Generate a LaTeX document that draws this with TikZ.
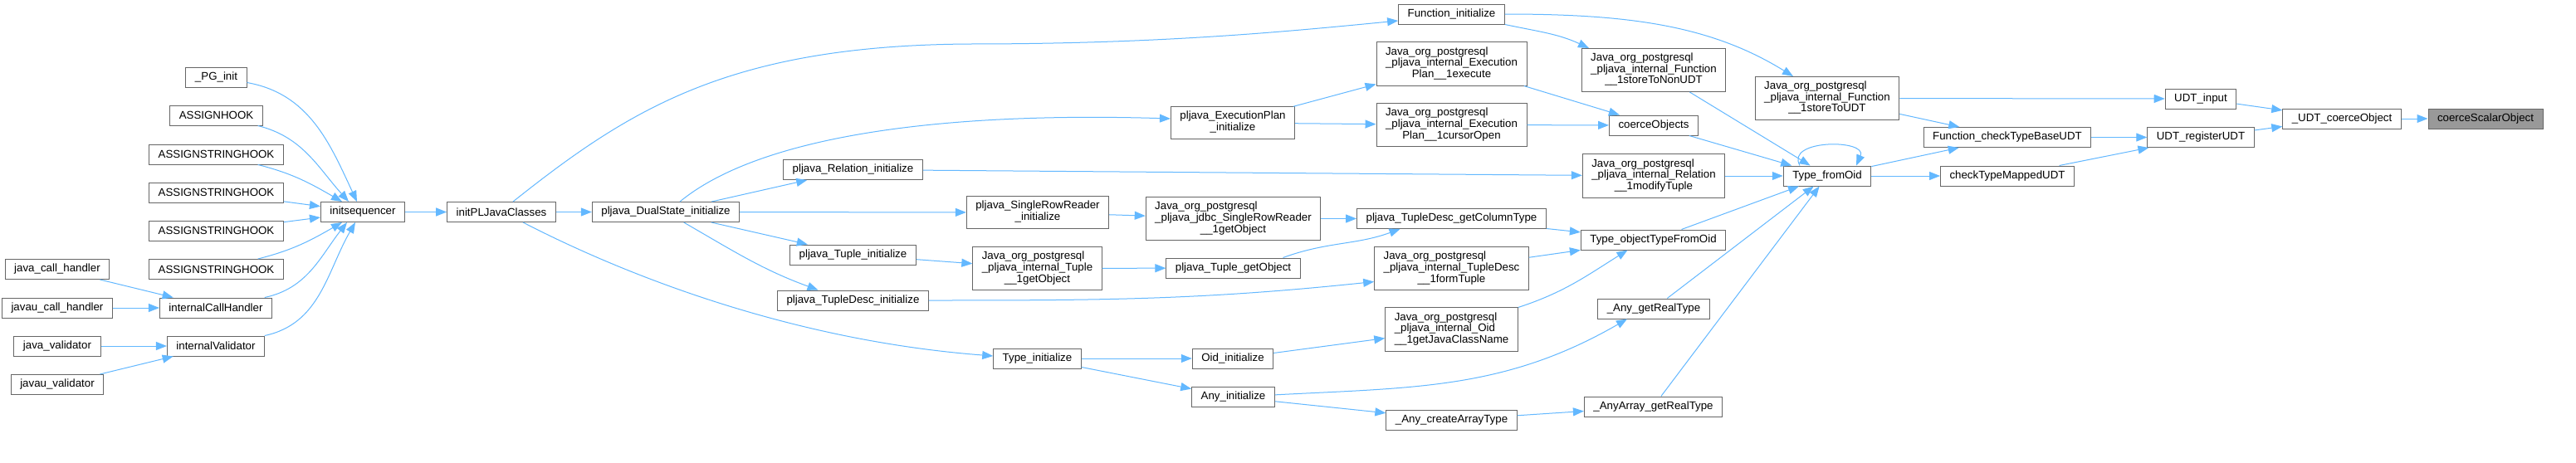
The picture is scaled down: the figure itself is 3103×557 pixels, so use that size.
\documentclass[tikz,border=0pt]{standalone}
\usepackage{fontspec}
\setmainfont{Liberation Sans}
\usetikzlibrary{arrows.meta}
\definecolor{edgeblue}{HTML}{63B8FF}
\definecolor{boxline}{HTML}{666666}
\definecolor{focusfill}{HTML}{999999}
\newcommand{\twoln}[2]{\begin{tabular}{@{}l@{}}#1\\\multicolumn{1}{@{}c@{}}{#2}\end{tabular}}
\newcommand{\threeln}[3]{\begin{tabular}{@{}l@{}}#1\\#2\\\multicolumn{1}{@{}c@{}}{#3}\end{tabular}}

\begin{document}
\begin{tikzpicture}[
    x=1pt, y=1pt,
    fn/.style={draw=boxline, line width=1pt, fill=white, font=\fontsize{13.3}{13.7}\selectfont,
      inner xsep=11pt, inner ysep=5.4pt, minimum height=24pt},
    focus/.style={fn, fill=focusfill},
    call/.style={->, draw=edgeblue, line width=1pt},
    >={Triangle[length=13pt, width=10pt]}
  ]
    \useasboundingbox[fill=white] (0,0) rectangle (3103,-557);
    \node[fn] (pginit) at (260.5,-93) {\_PG\_init};
    \node[fn] (asghook) at (260.5,-139) {ASSIGNHOOK};
    \node[fn] (asgstr1) at (260.5,-186) {ASSIGNSTRINGHOOK};
    \node[fn] (asgstr2) at (260.5,-232) {ASSIGNSTRINGHOOK};
    \node[fn] (asgstr3) at (260.5,-278) {ASSIGNSTRINGHOOK};
    \node[fn] (asgstr4) at (260.5,-324.5) {ASSIGNSTRINGHOOK};
    \node[fn] (intcall) at (260,-371) {internalCallHandler};
    \node[fn] (intvalid) at (260,-417) {internalValidator};
    \node[fn] (jcallh) at (69,-324.5) {java\_call\_handler};
    \node[fn] (jucallh) at (69,-371) {javau\_call\_handler};
    \node[fn] (jvalid) at (69,-417) {java\_validator};
    \node[fn] (juvalid) at (69,-463.5) {javau\_validator};
    \node[fn] (initseq) at (437,-255.5) {initsequencer};
    \node[fn] (initpl) at (604,-255.5) {initPLJavaClasses};
    \node[fn] (dualstate) at (802,-255.5) {pljava\_DualState\_initialize};
    \node[fn] (relinit) at (1027.5,-204.5) {pljava\_Relation\_initialize};
    \node[fn] (tupinit) at (1027.5,-307) {pljava\_Tuple\_initialize};
    \node[fn] (tdinit) at (1027.5,-362) {pljava\_TupleDesc\_initialize};
    \node[fn] (srrinit) at (1250,-256) {\twoln{pljava\_SingleRowReader}{\_initialize}};
    \node[fn] (jtupget) at (1249.5,-323.5) {\threeln{Java\_org\_postgresql}{\_pljava\_internal\_Tuple}{\_\_1getObject}};
    \node[fn] (typeinit) at (1249.5,-432) {Type\_initialize};
    \node[fn] (execinit) at (1485,-148) {\twoln{pljava\_ExecutionPlan}{\_initialize}};
    \node[fn] (srrget) at (1485.5,-263.5) {\threeln{Java\_org\_postgresql}{\_pljava\_jdbc\_SingleRowReader}{\_\_1getObject}};
    \node[fn] (ptupget) at (1485.5,-323) {pljava\_Tuple\_getObject};
    \node[fn] (oidinit) at (1485,-432) {Oid\_initialize};
    \node[fn] (anyinit) at (1485.5,-478.5) {Any\_initialize};
    \node[fn] (funcinit) at (1748.5,-17) {Function\_initialize};
    \node[fn] (jexec) at (1748.5,-77) {\threeln{Java\_org\_postgresql}{\_pljava\_internal\_Execution}{Plan\_\_1execute}};
    \node[fn] (jcursor) at (1748.5,-150.5) {\threeln{Java\_org\_postgresql}{\_pljava\_internal\_Execution}{Plan\_\_1cursorOpen}};
    \node[fn] (getcoltype) at (1748.5,-263.5) {pljava\_TupleDesc\_getColumnType};
    \node[fn] (formtuple) at (1748.5,-323.5) {\threeln{Java\_org\_postgresql}{\_pljava\_internal\_TupleDesc}{\_\_1formTuple}};
    \node[fn] (getjcn) at (1748.5,-397) {\threeln{Java\_org\_postgresql}{\_pljava\_internal\_Oid}{\_\_1getJavaClassName}};
    \node[fn] (mkarr) at (1748.5,-506) {\_Any\_createArrayType};
    \node[fn] (tononudt) at (1992,-84.5) {\threeln{Java\_org\_postgresql}{\_pljava\_internal\_Function}{\_\_1storeToNonUDT}};
    \node[fn] (coerceobjs) at (1992,-151) {coerceObjects};
    \node[fn] (modtuple) at (1992,-212) {\threeln{Java\_org\_postgresql}{\_pljava\_internal\_Relation}{\_\_1modifyTuple}};
    \node[fn] (objtype) at (1991.5,-289) {Type\_objectTypeFromOid};
    \node[fn] (anyreal) at (1992,-372) {\_Any\_getRealType};
    \node[fn] (arrreal) at (1991.5,-490) {\_AnyArray\_getRealType};
    \node[fn] (toudt) at (2201,-118.5) {\threeln{Java\_org\_postgresql}{\_pljava\_internal\_Function}{\_\_1storeToUDT}};
    \node[fn] (fromoid) at (2201,-212) {Type\_fromOid};
    \node[fn] (chkbase) at (2418,-165.5) {Function\_checkTypeBaseUDT};
    \node[fn] (chkmapped) at (2418,-212) {checkTypeMappedUDT};
    \node[fn] (udtinput) at (2651,-119) {UDT\_input};
    \node[fn] (udtreg) at (2651,-165.5) {UDT\_registerUDT};
    \node[fn] (udtcoerce) at (2821,-143) {\_UDT\_coerceObject};
    \node[focus] (scalar) at (2994,-143) {coerceScalarObject};
    \draw[call] (pginit) to[out=-10,in=115] ([xshift=-7pt]initseq.north);
    \draw[call] (asghook) to[out=-14,in=132] ([xshift=-17pt]initseq.north);
    \draw[call] (asgstr1) to[out=-14,in=150] ([xshift=-25pt]initseq.north);
    \draw[call] (asgstr2) -- (initseq);
    \draw[call] (asgstr3) -- (initseq);
    \draw[call] (asgstr4) to[out=14,in=-150] ([xshift=-25pt]initseq.south);
    \draw[call] (intcall) to[out=12,in=-128] ([xshift=-19pt]initseq.south);
    \draw[call] (intvalid) to[out=12,in=-120] ([xshift=-9pt]initseq.south);
    \draw[call] (jcallh) -- (intcall);
    \draw[call] (jucallh) -- (intcall);
    \draw[call] (jvalid) -- (intvalid);
    \draw[call] (juvalid) -- (intvalid);
    \draw[call] (initseq) -- (initpl);
    \draw[call] (initpl) -- (dualstate);
    \draw[call] ([xshift=14pt]initpl.north) .. controls (760,-130) and (880,-55) .. (1167,-53)
      .. controls (1400,-53) and (1550,-38) .. ([yshift=-8pt]funcinit.west);
    \draw[call] ([xshift=26pt]initpl.south) .. controls (750,-330) and (950,-410) .. ([yshift=3pt]typeinit.west);
    \draw[call] ([xshift=17pt]dualstate.north) .. controls (920,-160) and (1150,-135) .. ([yshift=5pt]execinit.west);
    \draw[call] (dualstate) -- (relinit);
    \draw[call] (dualstate) -- (srrinit);
    \draw[call] (dualstate) -- (tupinit);
    \draw[call] (dualstate) to[out=-30,in=160] ([xshift=-42pt]tdinit.north);
    \draw[call] (relinit) -- (modtuple);
    \draw[call] (srrinit) -- (srrget);
    \draw[call] (tupinit) -- (jtupget);
    \draw[call] (jtupget) -- (ptupget);
    \draw[call] (tdinit.east) to[out=0,in=186] ([yshift=-16pt]formtuple.west);
    \draw[call] (execinit) -- (jexec);
    \draw[call] (execinit) -- (jcursor);
    \draw[call] (srrget) -- (getcoltype);
    \draw[call] ([xshift=60pt]ptupget.north) to[out=20,in=200] ([xshift=-62pt]getcoltype.south);
    \draw[call] (typeinit) -- (oidinit);
    \draw[call] (typeinit) -- (anyinit);
    \draw[call] (oidinit) -- (getjcn);
    \draw[call] (anyinit) to[out=3,in=210] ([xshift=-32pt]anyreal.south);
    \draw[call] (anyinit) -- (mkarr);
    \draw[call] (funcinit.south east) to[out=-12,in=155] ([xshift=-78pt]tononudt.north);
    \draw[call] (funcinit.east) .. controls (1960,-17) and (2060,-30) .. ([xshift=-41pt]toudt.north);
    \draw[call] (jexec) -- (coerceobjs);
    \draw[call] (jcursor) -- (coerceobjs);
    \draw[call] (getcoltype) -- (objtype);
    \draw[call] (formtuple) -- (objtype);
    \draw[call] (getjcn.north east) to[out=18,in=212] ([xshift=-31pt]objtype.south);
    \draw[call] (mkarr) -- (arrreal);
    \draw[call] (tononudt) -- (fromoid);
    \draw[call] (coerceobjs) -- (fromoid);
    \draw[call] (modtuple) -- (fromoid);
    \draw[call] (objtype) -- (fromoid);
    \draw[call] (anyreal) -- (fromoid);
    \draw[call] (arrreal) -- (fromoid);
    \draw[call] ([xshift=-33pt]fromoid.north) .. controls +(-18,32) and +(14,32) .. ([xshift=35pt]fromoid.north);
    \draw[call] (fromoid) -- (chkbase);
    \draw[call] (fromoid) -- (chkmapped);
    \draw[call] (toudt) -- (chkbase);
    \draw[call] (toudt) -- (udtinput);
    \draw[call] (chkbase) -- (udtreg);
    \draw[call] (chkmapped) -- (udtreg);
    \draw[call] (udtinput) -- (udtcoerce);
    \draw[call] (udtreg) -- (udtcoerce);
    \draw[call] (udtcoerce) -- (scalar);
  \end{tikzpicture}
\end{document}
